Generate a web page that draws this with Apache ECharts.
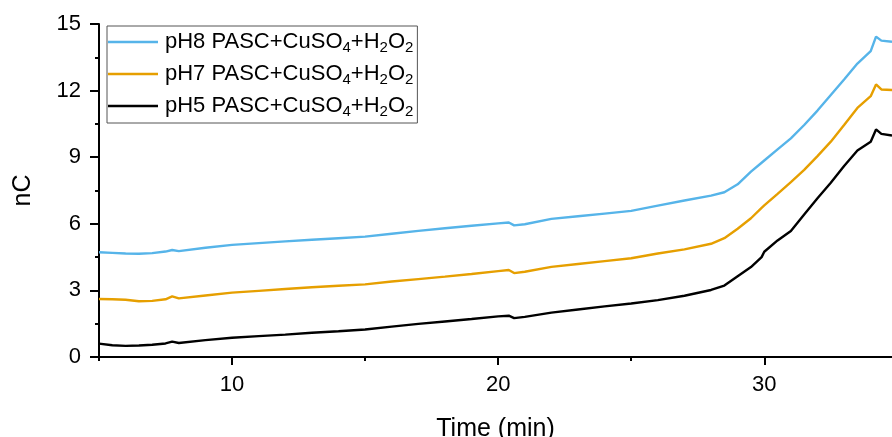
<!DOCTYPE html>
<html>
<head>
<meta charset="utf-8">
<script src="https://cdn.jsdelivr.net/npm/echarts@6/dist/echarts.min.js"></script>
<style>
html,body{margin:0;padding:0;background:#fff;}
#chart{width:892px;height:437px;}
</style>
</head>
<body>
<div id="chart"></div>
<script>
// Time (min)
var time = [5.0, 5.5, 6.0, 6.5, 7.0, 7.5, 7.75, 8.0, 9.0, 10, 11, 12, 13, 14, 15, 16, 17, 18, 19, 20, 20.4, 20.6, 21, 22, 23, 24, 25, 26, 27, 28, 28.5, 29, 29.5, 29.9, 30.0, 30.5, 31, 31.5, 32, 32.5, 33, 33.5, 34, 34.2, 34.4, 34.8];
// nC
var pH8 = [4.72, 4.69, 4.66, 4.65, 4.68, 4.75, 4.82, 4.77, 4.92, 5.05, 5.13, 5.21, 5.28, 5.35, 5.42, 5.55, 5.68, 5.80, 5.91, 6.02, 6.06, 5.93, 5.98, 6.22, 6.34, 6.46, 6.58, 6.82, 7.05, 7.27, 7.42, 7.78, 8.35, 8.75, 8.85, 9.35, 9.85, 10.45, 11.10, 11.80, 12.50, 13.22, 13.78, 14.43, 14.25, 14.20];
var pH7 = [2.61, 2.60, 2.58, 2.51, 2.53, 2.60, 2.73, 2.64, 2.77, 2.90, 2.98, 3.06, 3.14, 3.21, 3.27, 3.40, 3.51, 3.62, 3.74, 3.87, 3.92, 3.78, 3.84, 4.06, 4.19, 4.32, 4.45, 4.66, 4.85, 5.10, 5.35, 5.78, 6.25, 6.72, 6.83, 7.35, 7.88, 8.43, 9.05, 9.70, 10.45, 11.22, 11.75, 12.28, 12.05, 12.03];
var pH5 = [0.60, 0.53, 0.50, 0.52, 0.55, 0.61, 0.69, 0.63, 0.76, 0.87, 0.94, 1.01, 1.09, 1.16, 1.24, 1.37, 1.49, 1.60, 1.71, 1.83, 1.86, 1.75, 1.81, 2.00, 2.14, 2.28, 2.41, 2.56, 2.76, 3.02, 3.22, 3.64, 4.05, 4.50, 4.74, 5.25, 5.68, 6.42, 7.15, 7.85, 8.60, 9.30, 9.70, 10.25, 10.05, 9.98];
var seriesNames = ['pH8 PASC+CuSO4+H2O2', 'pH7 PASC+CuSO4+H2O2', 'pH5 PASC+CuSO4+H2O2'];
var xMajorTicks = [10, 20, 30];
var xMinorTicks = [5, 15, 25];

function pairs(xs, ys) { return xs.map(function (x, i) { return [x, ys[i]]; }); }

var FONT = 'Liberation Sans, Arial, sans-serif';
var chart = echarts.init(document.getElementById('chart'), null, {renderer: 'canvas'});
var colors = ['#56B4E9', '#E69F00', '#000000'];
var data = [pH8, pH7, pH5];

var option = {
  backgroundColor: '#ffffff',
  animation: false,
  grid: {left: 99, top: 24, right: 0, bottom: 80, containLabel: false, outerBoundsMode: 'none'},
  legend: {
    orient: 'vertical',
    left: 107, top: 26,
    padding: [3, 4, 4, 1],
    itemGap: 6,
    itemWidth: 50, itemHeight: 2.5,
    icon: 'rect',
    borderColor: '#555',
    borderWidth: 1,
    backgroundColor: '#fff',
    data: seriesNames,
    formatter: function (n) {
      return n.replace('CuSO4', 'CuSO{sub|4}').replace('H2O2', 'H{sub|2}O{sub|2}');
    },
    textStyle: {
      fontFamily: FONT, fontSize: 22, color: '#000', lineHeight: 26, padding: [0, 0, 0, 2],
      rich: {
        sub: {fontFamily: FONT, fontSize: 15, lineHeight: 15, verticalAlign: 'bottom', padding: [0, 0, 0, 0]}
      }
    }
  },
  xAxis: [{
    type: 'value', min: 5, max: 34.8,
    name: 'Time (min)', nameLocation: 'middle', nameGap: 60,
    nameTextStyle: {fontFamily: FONT, fontSize: 25, color: '#000'},
    axisLine: {show: true, onZero: false, lineStyle: {color: '#000', width: 2}},
    axisTick: {show: true, inside: false, length: 8, lineStyle: {color: '#000', width: 2}, customValues: xMajorTicks},
    axisLabel: {show: true, margin: 17, fontFamily: FONT, fontSize: 22, color: '#000', customValues: xMajorTicks},
    splitLine: {show: false}
  }, {
    type: 'value', min: 5, max: 34.8, position: 'bottom',
    axisLine: {show: false, onZero: false},
    axisTick: {show: true, inside: false, length: 4, lineStyle: {color: '#000', width: 2}, customValues: xMinorTicks},
    axisLabel: {show: false},
    splitLine: {show: false}
  }],
  yAxis: {
    type: 'value', min: 0, max: 15, interval: 3,
    name: 'nC', nameLocation: 'middle', nameGap: 63,
    nameTextStyle: {fontFamily: FONT, fontSize: 25, color: '#000'},
    axisLine: {show: true, onZero: false, lineStyle: {color: '#000', width: 2}},
    axisTick: {show: true, inside: false, length: 9, lineStyle: {color: '#000', width: 2}},
    minorTick: {show: true, splitNumber: 2, length: 4, lineStyle: {color: '#000', width: 2}},
    axisLabel: {margin: 18, fontFamily: FONT, fontSize: 22, color: '#000'},
    splitLine: {show: false}
  },
  series: seriesNames.map(function (n, i) {
    return {
      name: n, type: 'line', xAxisIndex: 0,
      data: pairs(time, data[i]),
      showSymbol: false, symbol: 'none',
      lineStyle: {color: colors[i], width: 2.4},
      itemStyle: {color: colors[i]},
      z: 3 - i
    };
  })
};
chart.setOption(option);
</script>
</body>
</html>
